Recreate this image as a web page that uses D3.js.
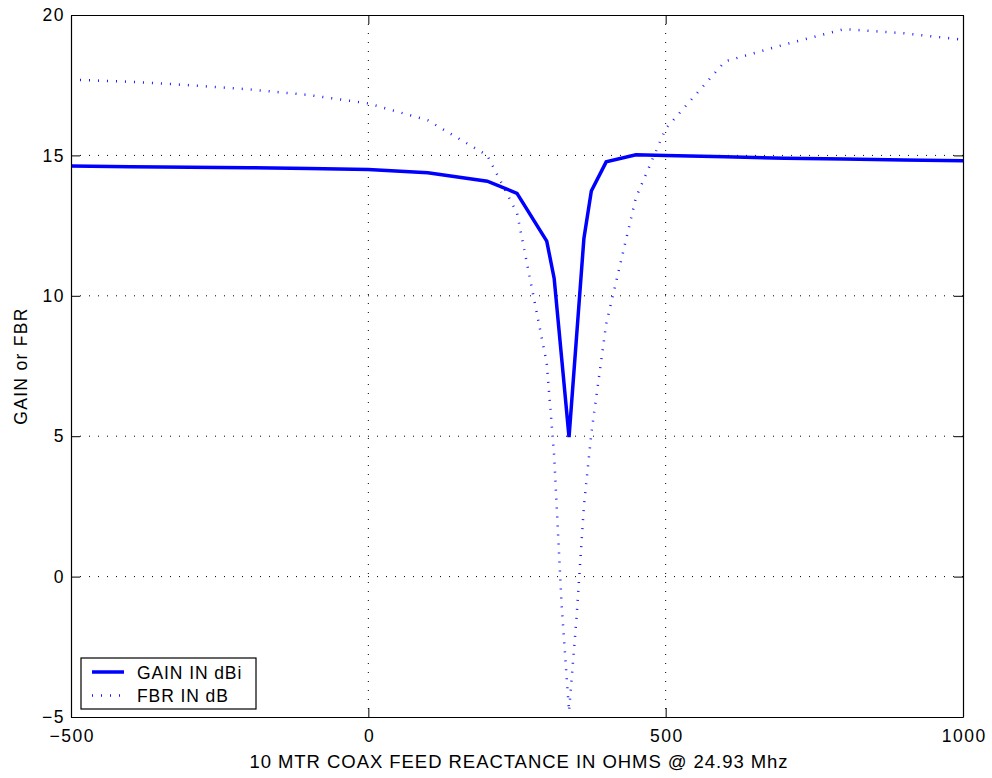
<!DOCTYPE html>
<html><head><meta charset="utf-8">
<script src="https://cdn.jsdelivr.net/npm/d3@7"></script>
<style>body{margin:0;background:#fff}svg{display:block}text{font-family:"Liberation Sans",Arial,sans-serif}</style>
</head><body><svg id="c" width="992" height="778"></svg>
<script>
const reactance = [-500,-400,-300,-200,-100,0,100,200,250,300,312.5,325,337.5,350,362.5,375,400,450,500,600,700,800,900,1000];
const gainDBi   = [14.62,14.60,14.58,14.56,14.53,14.50,14.38,14.08,13.65,11.95,10.62,7.8,4.97,8.5,12.04,13.73,14.77,15.02,15.0,14.95,14.9,14.87,14.84,14.81];
const fbrDB     = [17.70,17.62,17.50,17.35,17.15,16.85,16.25,15.0,12.95,7.6,4.3,-1.0,-4.8,-1.5,2.5,5.1,9.0,13.5,15.95,18.35,18.95,19.5,19.35,19.12];
const xTicks = [-500,0,500,1000];
const yTicks = [-5,0,5,10,15,20];
const seriesNames = ["GAIN IN dBi","FBR IN dB"];

const svg = d3.select("#c");
const L=71, R=963, T=15, B=717;
const x = d3.scaleLinear().domain([-500,1000]).range([L,R]);
const y = d3.scaleLinear().domain([-5,20]).range([B,T]);

// grid
const g = svg.append("g");
g.selectAll(".gx").data(xTicks.slice(1,-1)).join("line")
  .attr("x1",d=>x(d)).attr("x2",d=>x(d)).attr("y1",T).attr("y2",B)
  .attr("stroke","#000").attr("stroke-width",1).attr("stroke-dasharray","1 8");
g.selectAll(".gy").data(yTicks.slice(1,-1)).join("line")
  .attr("y1",d=>y(d)).attr("y2",d=>y(d)).attr("x1",L).attr("x2",R)
  .attr("stroke","#000").attr("stroke-width",1).attr("stroke-dasharray","1 8");

// lines
const line = d3.line().x((d,i)=>x(reactance[i])).y(d=>y(d));
svg.append("path").datum(fbrDB).attr("d",line).attr("fill","none")
  .attr("stroke","#0000ff").attr("stroke-width",2.5).attr("stroke-dasharray","1 8").attr("opacity",0.9);
svg.append("path").datum(gainDBi).attr("d",line).attr("fill","none")
  .attr("stroke","#0000ff").attr("stroke-width",3.5).attr("stroke-linejoin","miter");

// axes
const fmt = d=> d<0 ? "\u2212"+Math.abs(d) : String(d);
const ax = svg.append("g").attr("transform",`translate(0,${B})`)
  .call(d3.axisBottom(x).tickValues(xTicks).tickFormat(fmt).tickSizeInner(-9).tickSizeOuter(0).tickPadding(13));
const ay = svg.append("g").attr("transform",`translate(${L},0)`)
  .call(d3.axisLeft(y).tickValues(yTicks).tickFormat(fmt).tickSizeInner(-9).tickSizeOuter(0).tickPadding(6));
const axT = svg.append("g").attr("transform",`translate(0,${T})`)
  .call(d3.axisTop(x).tickValues(xTicks).tickFormat("").tickSizeInner(-9).tickSizeOuter(0));
const ayR = svg.append("g").attr("transform",`translate(${R},0)`)
  .call(d3.axisRight(y).tickValues(yTicks).tickFormat("").tickSizeInner(-9).tickSizeOuter(0));
[ax,ay,axT,ayR].forEach(a=>{a.select(".domain").attr("stroke","#000").attr("stroke-width",1.2);
  a.selectAll(".tick line").attr("stroke","#000");
  a.selectAll("text").attr("font-size",17.5).attr("letter-spacing","1.5px").attr("fill","#000")
   .attr("font-family","Liberation Sans, Arial, sans-serif");});
ax.selectAll("text").attr("dx","0.75px");

// labels
svg.append("text").attr("x",519).attr("y",768).attr("text-anchor","middle").attr("font-size",18.5)
  .attr("letter-spacing","0.95px").text("10 MTR COAX FEED REACTANCE IN OHMS @ 24.93 Mhz");
svg.append("text").attr("transform","translate(27,366) rotate(-90)").attr("text-anchor","middle").attr("font-size",17.5)
  .attr("letter-spacing","1.3px").text("GAIN or FBR");

// legend
const lg = svg.append("g");
lg.append("rect").attr("x",81).attr("y",658).attr("width",175).attr("height",51)
  .attr("fill","#fff").attr("stroke","#000").attr("stroke-width",1.2);
const rows = [{name:seriesNames[0],w:3.5,dash:null,o:1},{name:seriesNames[1],w:2.5,dash:"1 8",o:0.9}];
rows.forEach((r,i)=>{
  const yy = 672 + i*23.5;
  lg.append("line").attr("x1",92).attr("x2",124).attr("y1",yy).attr("y2",yy)
    .attr("stroke","#0000ff").attr("stroke-width",r.w).attr("stroke-dasharray",r.dash).attr("opacity",r.o);
  lg.append("text").attr("x",137).attr("y",yy+6.5).attr("font-size",17.5).attr("letter-spacing","0.9px").text(r.name);
});
</script></body></html>
